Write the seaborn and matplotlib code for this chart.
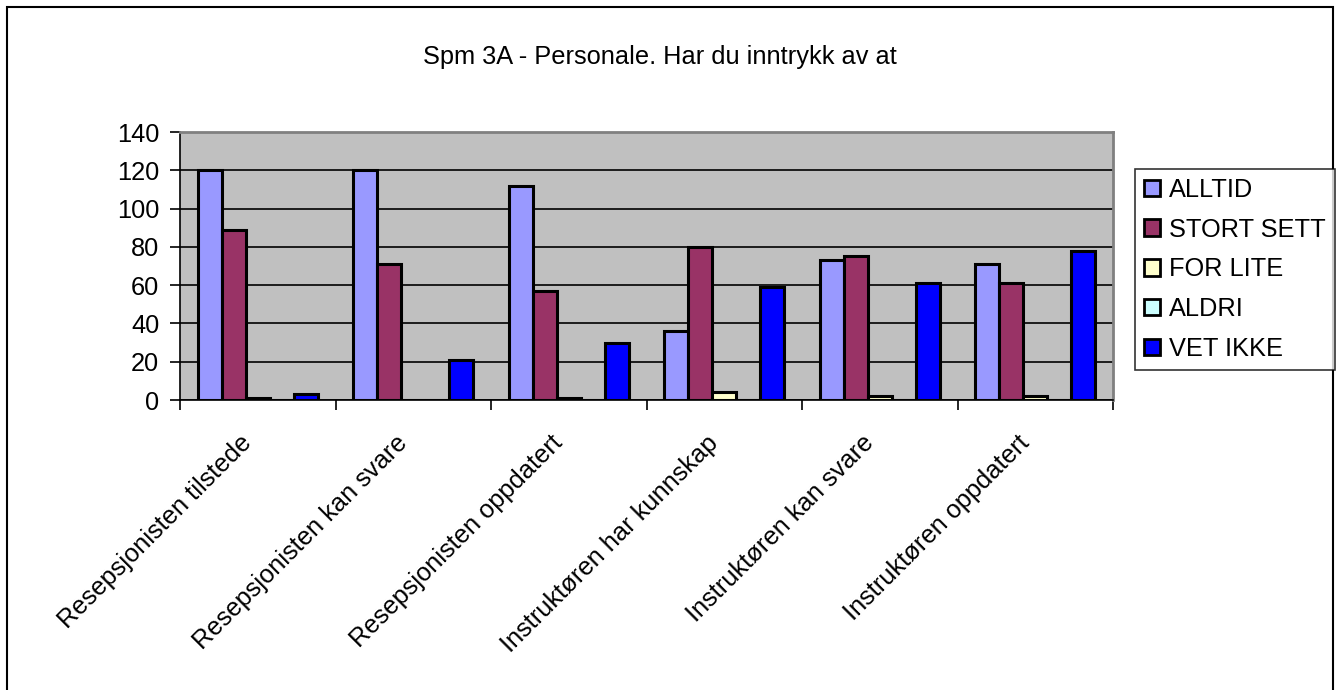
import matplotlib
matplotlib.use("Agg")
import matplotlib.pyplot as plt
import matplotlib.patches as mpatches
import matplotlib.transforms as mtransforms
import seaborn as sns
import pandas as pd
import numpy as np

categories = ["Resepsjonisten tilstede", "Resepsjonisten kan svare", "Resepsjonisten oppdatert",
              "Instruktøren har kunnskap", "Instruktøren kan svare", "Instruktøren oppdatert"]
series = ["ALLTID", "STORT SETT", "FOR LITE", "ALDRI", "VET IKKE"]
alltid = [120, 120, 112, 36, 73, 71]
stort_sett = [89, 71, 57, 80, 75, 61]
for_lite = [1, 0, 1, 4, 2, 2]
aldri = [0, 0, 0, 0, 0, 0]
vet_ikke = [3, 21, 30, 59, 61, 78]
colors = ["#9999FF", "#993366", "#FFFFCC", "#CCFFFF", "#0000FF"]
title = "Spm 3A - Personale. Har du inntrykk av at"

values = [alltid, stort_sett, for_lite, aldri, vet_ikke]
rows = []
for s, vals in zip(series, values):
    for c, v in zip(categories, vals):
        rows.append({"cat": c, "series": s, "val": v})
df = pd.DataFrame(rows)

sns.set_theme(style="white")
plt.rcParams['font.family'] = ['Liberation Sans', 'DejaVu Sans']
plt.rcParams['text.color'] = 'black'
plt.rcParams['xtick.color'] = 'black'
plt.rcParams['ytick.color'] = 'black'
plt.rcParams['axes.labelcolor'] = 'black'
FS = 18.3

fig = plt.figure(figsize=(13.4, 6.9), dpi=100)
W, H = 1340, 690
ax = fig.add_axes([180 / W, 1 - 400 / H, (1113 - 180) / W, (400 - 132) / H])
ax.set_facecolor("#C0C0C0")

sns.barplot(data=df, x="cat", y="val", hue="series", hue_order=series, order=categories,
            palette=colors, saturation=1, edgecolor="black", linewidth=2.2, width=0.77, gap=0,
            ax=ax, legend=False, zorder=3)

ax.set_ylim(0, 140)
ax.set_yticks(np.arange(0, 141, 20))
ax.set_xlim(-0.5, len(categories) - 0.5)
ax.yaxis.grid(True, color="black", linewidth=1.2, zorder=1)
ax.set_axisbelow(True)
ax.set_xlabel("")
ax.set_ylabel("")

for side in ["top", "right"]:
    ax.spines[side].set_color("#808080")
    ax.spines[side].set_linewidth(2)
for side in ["left", "bottom"]:
    ax.spines[side].set_color("black")
    ax.spines[side].set_linewidth(1.2)

ax.tick_params(axis="y", which="major", direction="out", length=7, width=1.2,
               color="black", left=True, labelsize=FS, pad=8, labelcolor="black")
ax.tick_params(axis="x", which="major", length=0, labelsize=FS, pad=10, labelcolor="black")
ax.set_xticks(np.arange(-0.5, len(categories) - 0.4, 1.0), minor=True)
ax.tick_params(axis="x", which="minor", direction="out", length=7, width=1.2,
               color="black", bottom=True)
ax.set_xticks(range(len(categories)))
ax.set_xticklabels(categories, rotation=45, ha="right", rotation_mode="anchor", fontsize=FS)
offset = mtransforms.ScaledTranslation(-18 / 100, -17 / 100, fig.dpi_scale_trans)
for t in ax.get_xticklabels():
    t.set_transform(t.get_transform() + offset)
for t in ax.get_yticklabels():
    t.set_fontsize(FS)

fig.text(660 / W, 1 - 57 / H, title, ha="center", va="center", fontsize=FS, color="black")

handles = [mpatches.Patch(facecolor=c, edgecolor="black", linewidth=2, label=s)
           for c, s in zip(colors, series)]
leg = fig.legend(handles=handles, loc="upper left",
                 bbox_to_anchor=(1135 / W, 1 - 169 / H), fontsize=FS,
                 frameon=True, fancybox=False, edgecolor="black",
                 handlelength=0.62, handleheight=0.62, handletextpad=0.38,
                 labelspacing=0.62, borderpad=0.35, borderaxespad=0,
                 labelcolor="black")
leg.get_frame().set_linewidth(1.2)

border = mpatches.Rectangle((7 / W, -0.05), (1333 - 7) / W, 1 - 7 / H + 0.05,
                            transform=fig.transFigure, fill=False,
                            edgecolor="black", linewidth=1.5)
fig.patches.append(border)

fig.savefig("out.png", dpi=100, facecolor="white")
